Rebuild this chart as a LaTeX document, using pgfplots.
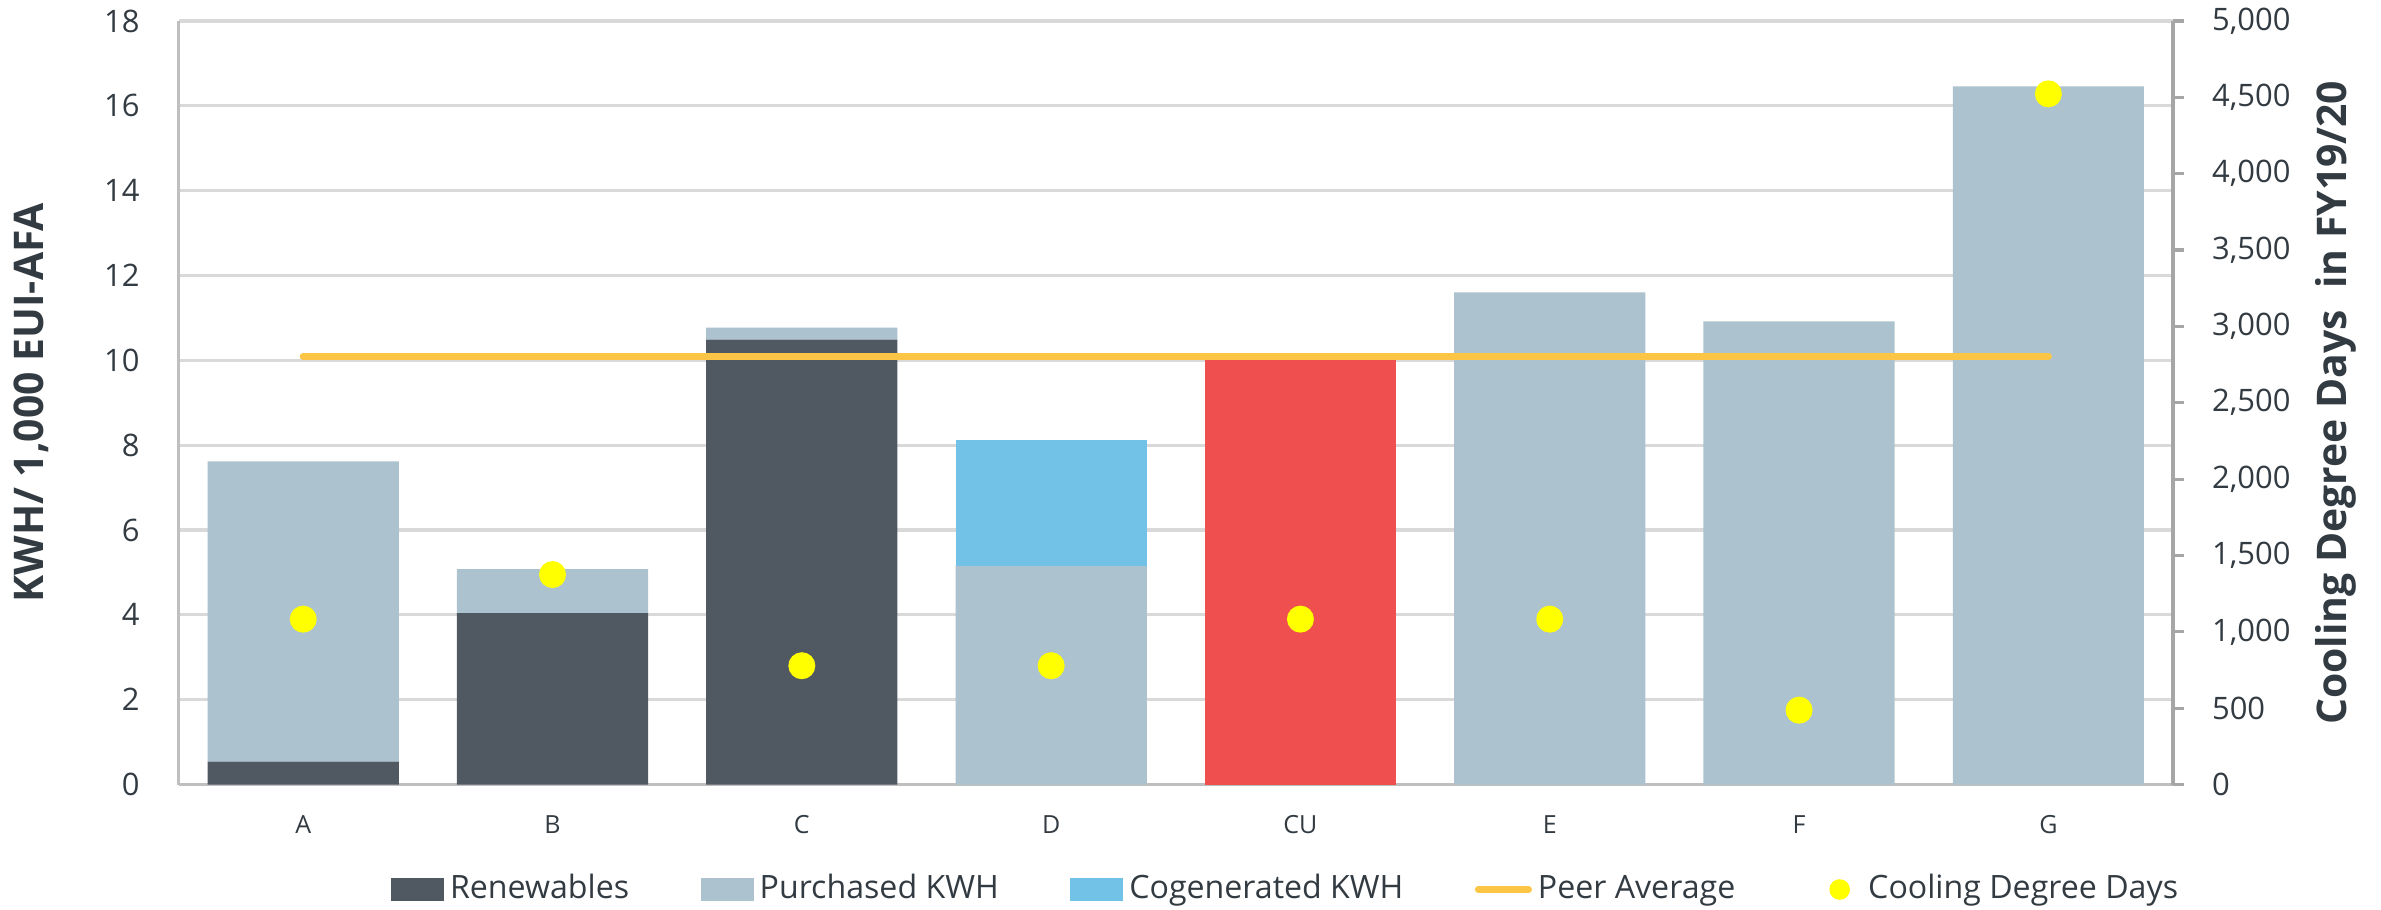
\documentclass[border=0pt]{standalone}
\usepackage{fontspec}
\setmainfont{Open Sans}
\usepackage{pgfplots}
\pgfplotsset{compat=1.18}
\definecolor{renew}{HTML}{505862}
\definecolor{purch}{HTML}{ACC2CE}
\definecolor{cogen}{HTML}{72C2E8}
\definecolor{cured}{HTML}{EF4F4F}
\definecolor{peer}{HTML}{FCC545}
\definecolor{cdd}{HTML}{FFFF00}
\definecolor{txt}{HTML}{333B42}
\definecolor{gridc}{HTML}{D9D9D9}
\definecolor{axc}{HTML}{BFBFBF}
\definecolor{axr}{HTML}{A6A6A6}
\begin{document}
\begin{tikzpicture}
\path[use as bounding box] (-45pt,-31.6pt) rectangle (555pt,197.7pt);
\begin{axis}[
  scale only axis, width=502.6pt, height=192.4pt,
  at={(0,0)}, anchor=south west,
  xmin=-0.5, xmax=7.5, ymin=0, ymax=18,
  ytick={0,2,...,18},
  xtick={0,...,7}, xticklabels={A,B,C,D,CU,E,F,G},
  ybar stacked, bar width=0.767,
  axis x line*=bottom, axis y line*=left,
  axis line style={-, draw=axc, line width=0.8pt},
  major tick length=0pt,
  ymajorgrids, grid style={draw=gridc, line width=0.8pt},
  /pgf/number format/assume math mode=true,
  yticklabel style={font=\fontsize{7.8}{9}\selectfont, text=txt, xshift=-6.3pt},
  xticklabel style={font=\fontsize{6.3}{7}\selectfont, text=txt, yshift=-4.2pt},
  ylabel={KWH/ 1,000 EUI-AFA},
  ylabel style={font=\fontsize{10.3}{12}\selectfont\bfseries, text=txt,
    at={(axis description cs:-0.074,0.5)}, anchor=center},
]
% Renewables
\addplot[fill=renew, draw=none] coordinates {(0,0.54) (1,4.04) (2,10.49) (3,0) (4,0) (5,0) (6,0) (7,0)};
% Purchased KWH
\addplot[fill=purch, draw=none] coordinates {(0,7.08) (1,1.04) (2,0.28) (3,5.15) (4,0) (5,11.6) (6,10.92) (7,16.46)};
% Cogenerated KWH
\addplot[fill=cogen, draw=none] coordinates {(0,0) (1,0) (2,0) (3,2.97) (4,0) (5,0) (6,0) (7,0)};
% CU highlighted
\addplot[fill=cured, draw=none] coordinates {(0,0) (1,0) (2,0) (3,0) (4,10.02) (5,0) (6,0) (7,0)};
\end{axis}

\begin{axis}[
  scale only axis, width=502.6pt, height=192.4pt,
  at={(0,0)}, anchor=south west,
  xmin=-0.5, xmax=7.5, ymin=0, ymax=5000,
  ytick={0,500,...,5000},
  axis x line=none, axis y line*=right,
  axis line style={-, draw=axr, line width=0.8pt},
  ytick style={draw=axr, line width=0.8pt},
  major tick length=2.8pt, tick align=outside,
  /pgf/number format/assume math mode=true,
  /pgf/number format/1000 sep={,},
  yticklabel style={font=\fontsize{7.8}{9}\selectfont, text=txt, xshift=3.5pt},
  ylabel={Cooling Degree Days\ \ in FY19/20},
  ylabel style={font=\fontsize{10.3}{12}\selectfont\bfseries, text=txt,
    at={(axis description cs:1.0816,0.5)}, anchor=center},
  legend columns=-1,
  legend style={at={(axis description cs:0.556,-0.1375)}, anchor=center,
    draw=none, fill=none, inner sep=0pt,
    font=\fontsize{8.1}{9.6}\selectfont, text=txt,
    nodes={inner xsep=1.5pt, inner ysep=0pt},
    /tikz/every even column/.append style={column sep=16.5pt}},
]
\addlegendimage{legend image code/.code={\fill[renew] (0pt,-2.65pt) rectangle (13pt,2.65pt);}}
\addlegendentry{Renewables}
\addlegendimage{legend image code/.code={\fill[purch] (0pt,-2.65pt) rectangle (13pt,2.65pt);}}
\addlegendentry{Purchased KWH}
\addlegendimage{legend image code/.code={\fill[cogen] (0pt,-2.65pt) rectangle (13pt,2.65pt);}}
\addlegendentry{Cogenerated KWH}
\addplot[peer, line width=1.8pt, line cap=round,
  legend image code/.code={\draw[peer, line width=1.8pt, line cap=round] (0.9pt,0pt) -- (13.5pt,0pt);}]
  coordinates {(0,2803) (7,2803)};
\addlegendentry{Peer Average}
\addplot[cdd, only marks, mark=*, mark size=3.2pt, mark options={draw=none, fill=cdd},
  legend image code/.code={\path[draw=none, fill=none] (0pt,0pt) -- (14pt,0pt); \fill[cdd, draw=none] (8.3pt,0pt) circle (2.6pt);}]
  coordinates {(0,1083) (1,1375) (2,778) (3,778) (4,1083) (5,1083) (6,487) (7,4523)};
\addlegendentry{Cooling Degree Days}
\end{axis}
\end{tikzpicture}
\end{document}
